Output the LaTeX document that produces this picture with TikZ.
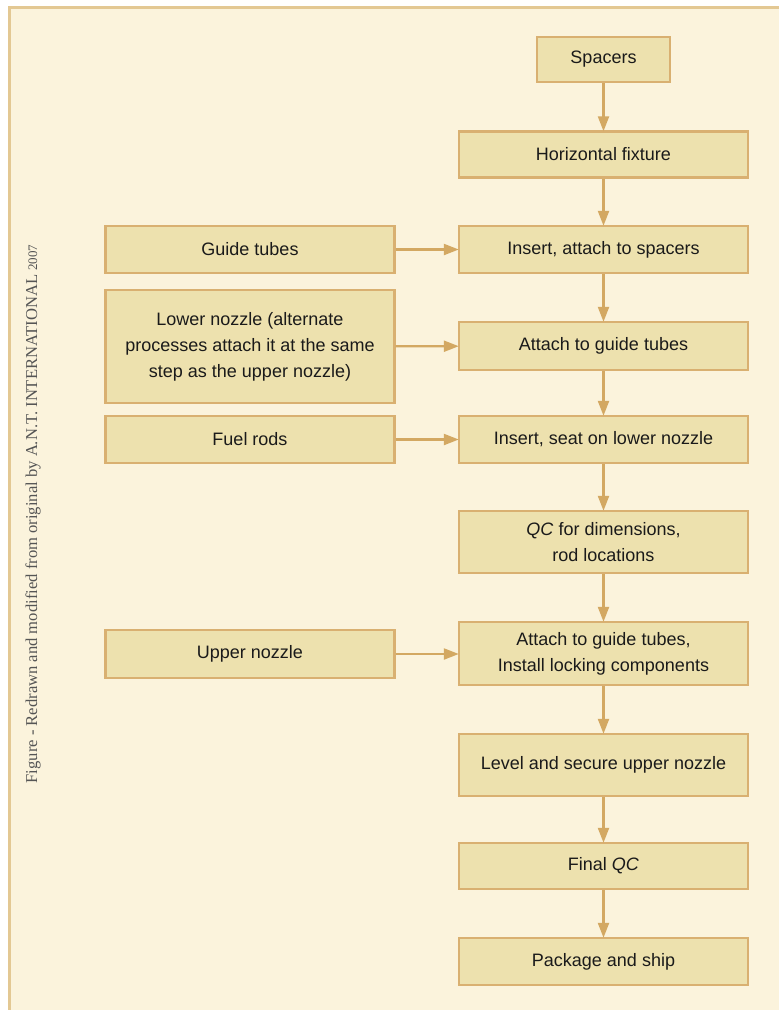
\documentclass[tikz,border=0pt]{standalone}
\usepackage{fontspec}
\setmainfont{Liberation Sans}
\newfontfamily\capfont{Liberation Serif}
\usetikzlibrary{arrows.meta}

\definecolor{pagebg}{HTML}{FBF3DC}
\definecolor{boxfill}{HTML}{EDE1AE}
\definecolor{boxedge}{HTML}{D9B071}
\definecolor{flow}{HTML}{D3A862}
\definecolor{frameline}{HTML}{E3C893}
\definecolor{captext}{HTML}{555555}
\definecolor{boxtext}{HTML}{1A1A1A}

\tikzset{
  stepbox/.style={draw=boxedge, fill=boxfill, line width=2.4pt,
    text=boxtext, align=center, inner sep=2pt,
    font=\fontsize{18}{26}\selectfont},
  rightbox/.style={stepbox, minimum width=289pt},
  leftbox/.style={stepbox, minimum width=289pt},
  flowarrow/.style={draw=flow, line width=2.2pt,
    -{Triangle[length=15pt,width=11pt]}, shorten >=-1pt},
}

\begin{document}
\begin{tikzpicture}[x=1pt, y=-1pt]
  \useasboundingbox (0,0) rectangle (779,1010);
  % page panel with its frame
  \fill[white] (0,0) rectangle (779,1010);
  \fill[pagebg] (8,7) rectangle (790,1020);
  \draw[frameline, line width=3pt] (9.5,1020) -- (9.5,7.5) -- (790,7.5);

  % vertical credit line
  \node[rotate=90, text=captext, font=\capfont\fontsize{16.6}{19}\selectfont]
    (credit) at (33,514) {Figure - Redrawn and modified from original by A.N.T. INTERNATIONAL {\fontsize{13}{15}\selectfont 2007}};

  % main process column
  \node[stepbox, minimum width=133pt, minimum height=45pt] (spacers) at (603.5,59.5) {Spacers};
  \node[rightbox, minimum height=46pt] (fixture) at (603.5,154.5) {Horizontal fixture};
  \node[rightbox, minimum height=47pt] (insert) at (603.5,249.5) {Insert, attach to spacers};
  \node[rightbox, minimum height=48pt] (attachlow) at (603.5,346) {Attach to guide tubes};
  \node[rightbox, minimum height=47pt] (seat) at (603.5,439.5) {Insert, seat on lower nozzle};
  \node[rightbox, minimum height=62pt] (qcdim) at (603.5,542) {\textit{QC} for dimensions,\\rod locations};
  \node[rightbox, minimum height=63pt] (attachup) at (603.5,653.5) {Attach to guide tubes,\\Install locking components};
  \node[rightbox, minimum height=62pt] (level) at (603.5,765) {Level and secure upper nozzle};
  \node[rightbox, minimum height=46pt] (finalqc) at (603.5,866) {Final \textit{QC}};
  \node[rightbox, minimum height=47pt] (ship) at (603.5,961.5) {Package and ship};

  % incoming parts
  \node[leftbox, minimum height=47pt] (guide) at (250,249.5) {Guide tubes};
  \node[leftbox, minimum height=113pt] (lower) at (250,346.5)
    {Lower nozzle (alternate\\processes attach it at the same\\step as the upper nozzle)};
  \node[leftbox, minimum height=47pt] (fuel) at (250,439.5) {Fuel rods};
  \node[leftbox, minimum height=48pt] (upper) at (250,654) {Upper nozzle};

  % flow through the main column
  \draw[flowarrow] (spacers) -- (fixture);
  \draw[flowarrow] (fixture) -- (insert);
  \draw[flowarrow] (insert) -- (attachlow);
  \draw[flowarrow] (attachlow) -- (seat);
  \draw[flowarrow] (seat) -- (qcdim);
  \draw[flowarrow] (qcdim) -- (attachup);
  \draw[flowarrow] (attachup) -- (level);
  \draw[flowarrow] (level) -- (finalqc);
  \draw[flowarrow] (finalqc) -- (ship);

  % parts fed in from the left
  \draw[flowarrow] (guide) -- (insert);
  \draw[flowarrow] (lower) -- (attachlow);
  \draw[flowarrow] (fuel) -- (seat);
  \draw[flowarrow] (upper.east) -- (attachup.west |- upper.east);
\end{tikzpicture}
\end{document}
